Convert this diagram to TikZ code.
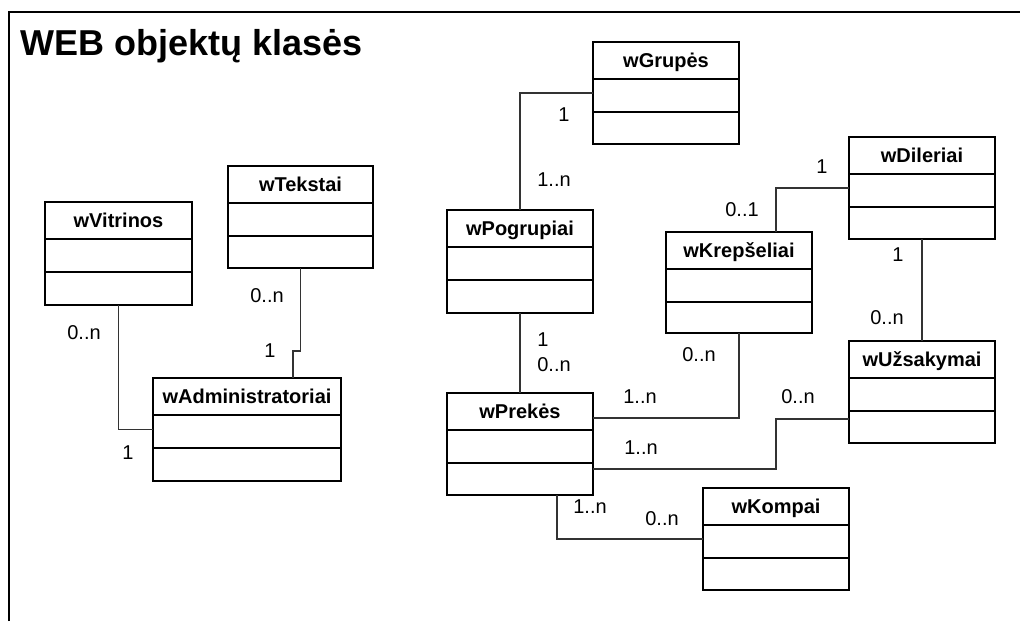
\documentclass[tikz,border=0pt]{standalone}
\usepackage{fontspec}
\setmainfont{Liberation Sans}
\usetikzlibrary{fit,calc}

\tikzset{
  clsbox/.style={draw, line width=1.5pt, inner sep=0pt, outer sep=0pt},
  divider/.style={line width=1.5pt},
  clsname/.style={anchor=base, inner sep=0pt, font=\fontsize{15}{18}\selectfont\bfseries},
  assoc/.style={draw=black!80, line width=0.8pt},
  mult/.style={inner sep=0pt, font=\fontsize{15}{18}\selectfont},
  frame/.style={line width=1.5pt},
}

% UML class box: name, x1, y1, x2, y2, title
\newcommand\classbox[6]{%
  \path (#2,#3) coordinate (#1 nw) (#4,#5) coordinate (#1 se);
  \node[clsbox, fit=(#1 nw)(#1 se)] (#1) {};
  \draw[divider] (#2,#3+37) -- (#4,#3+37) (#2,#3+70) -- (#4,#3+70);
  \node[clsname] (#1 title) at ({(#2+#4)/2},#3+25) {#6};
}

\begin{document}
\begin{tikzpicture}[x=0.75pt,y=-0.75pt]
  \useasboundingbox (0,0) rectangle (1020,621);

  % outer frame (top and left edges only)
  \draw[frame] (9,621) -- (9,12) -- (1020,12);

  \node[anchor=base west, inner sep=0pt, font=\fontsize{27}{32}\selectfont\bfseries] (title) at (20,55) {WEB objektų klasės};

  % classes
  \classbox{vit}{45}{202}{192}{305}{wVitrinos}
  \classbox{tek}{228}{166}{373}{268}{wTekstai}
  \classbox{adm}{153}{378}{341}{481}{wAdministratoriai}
  \classbox{gr}{593}{42}{739}{144}{wGrupės}
  \classbox{pog}{447}{210}{593}{313}{wPogrupiai}
  \classbox{dil}{849}{137}{995}{239}{wDileriai}
  \classbox{kre}{666}{232}{812}{333}{wKrepšeliai}
  \classbox{uzs}{849}{341}{995}{443}{wUžsakymai}
  \classbox{prek}{447}{393}{593}{495}{wPrekės}
  \classbox{kom}{703}{488}{849}{590}{wKompai}

  % associations
  \draw[assoc] (vit.south) |- (adm.west);
  \draw[assoc] (tek.south) |- ($(adm.north west)+(140,-27)$) -- ($(adm.north west)+(140,0)$);
  \draw[assoc] (gr.west) -| (pog.north);
  \draw[assoc] (pog.south) -- (prek.north);
  \draw[assoc] (dil.west) -| ($(kre.north)+(37,0)$);
  \draw[assoc] (dil.south) -- (uzs.north);
  \draw[assoc] (kre.south) |- ($(prek.north east)+(0,25)$);
  \draw[assoc] ($(uzs.north west)+(0,78)$) -| ($(prek.north east)+(183,76)$) -- ($(prek.north east)+(0,76)$);
  \draw[assoc] ($(prek.south west)+(110,0)$) |- (kom.west);

  % multiplicities
  \node[mult] (m1)  at (84,333)  {0..n};
  \node[mult] (m2)  at (128,453) {1};
  \node[mult] (m3)  at (267,296) {0..n};
  \node[mult] (m4)  at (270,351) {1};
  \node[mult] (m5)  at (564,115) {1};
  \node[mult] (m6)  at (554,180) {1..n};
  \node[mult] (m7)  at (822,167) {1};
  \node[mult] (m8)  at (742,210) {0..1};
  \node[mult] (m9)  at (898,255) {1};
  \node[mult] (m10) at (887,318) {0..n};
  \node[mult] (m11) at (699,355) {0..n};
  \node[mult] (m12) at (640,397) {1..n};
  \node[mult] (m13) at (798,397) {0..n};
  \node[mult] (m14) at (641,448) {1..n};
  \node[mult] (m15) at (543,340) {1};
  \node[mult] (m16) at (554,365) {0..n};
  \node[mult] (m17) at (590,507) {1..n};
  \node[mult] (m18) at (662,519) {0..n};
\end{tikzpicture}
\end{document}
